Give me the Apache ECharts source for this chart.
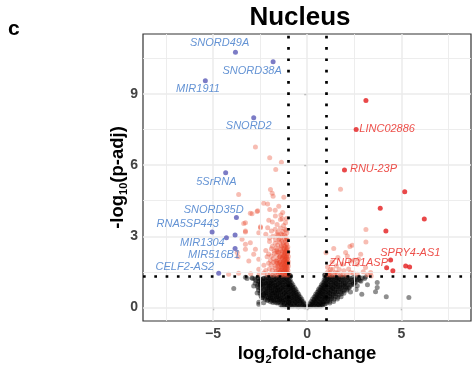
<!DOCTYPE html>
<html><head><meta charset="utf-8">
<script src="https://cdn.jsdelivr.net/npm/echarts@6/dist/echarts.min.js"></script>
<style>html,body{margin:0;padding:0;background:#fff}#c{width:472px;height:370px}</style>
</head><body><div id="c"></div>
<script>
// ---- data ----
const xTicks = [-5, 0, 5];
const yTicks = [0, 3, 6, 9];
const xMajorGrid = [-5, 0, 5];
const xMinorGrid = [-7.5, -2.5, 2.5, 7.5];
const yMajorGrid = [0, 3, 6, 9];
const yMinorGrid = [1.5, 4.5, 7.5, 10.5];
const fcCutoffs = [-1, 1];
const padjCutoff = 1.301;

const downNames = ['SNORD49A','SNORD38A','MIR1911','SNORD2','5SrRNA','SNORD35D','RNA5SP443','MIR1304','MIR516B1','CELF2-AS2'];
const downPoints = [[-3.81,10.77],[-1.81,10.36],[-5.41,9.56],[-2.84,8.0],[-4.33,5.68],[-3.76,3.79],[-5.05,3.18],[-4.29,2.94],[-3.83,2.48],[-4.70,1.44]];
const downOther = [[-3.83,3.05]];
const upNames = ['LINC02886','RNU-23P','SPRY4-AS1','ZNRD1ASP'];
const upPoints = [[2.6,7.5],[1.98,5.8],[4.43,2.0],[4.22,1.67]];
const upOther = [[3.12,8.73],[5.18,4.88],[3.88,4.18],[6.22,3.73],[4.18,3.22],[4.55,1.54],[5.23,1.75],[5.44,1.70]];

const nsPoints = [
[-0.02,0.02],[-0.08,0.05],[-0.15,0.03],[-0.22,0.08],[-0.3,0.04],[-0.38,0.06],[-0.47,0.03],[-0.55,0.07],[-0.63,0.05],[-0.72,0.09],[-0.8,0.04],
[-0.12,0.14],[-0.2,0.17],[-0.29,0.15],[-0.37,0.18],[-0.46,0.14],[-0.54,0.16],[-0.62,0.19],[-0.7,0.15],[-0.79,0.17],[-0.88,0.14],[-0.95,0.18],
[-0.21,0.24],[-0.3,0.27],[-0.38,0.25],[-0.47,0.28],[-0.56,0.24],[-0.64,0.26],[-0.73,0.29],[-0.82,0.25],[-0.9,0.27],[-0.98,0.23],[-1.05,0.28],
[-0.29,0.35],[-0.37,0.33],[-0.45,0.37],[-0.54,0.34],[-0.62,0.36],[-0.71,0.38],[-0.8,0.33],[-0.88,0.37],[-0.97,0.35],[-1.06,0.38],[-1.13,0.34],
[-0.37,0.44],[-0.45,0.47],[-0.53,0.43],[-0.62,0.46],[-0.7,0.48],[-0.79,0.44],[-0.87,0.47],[-0.96,0.45],[-1.04,0.43],[-1.13,0.48],[-1.22,0.45],
[-0.45,0.55],[-0.53,0.53],[-0.61,0.57],[-0.7,0.54],[-0.78,0.58],[-0.87,0.55],[-0.95,0.53],[-1.04,0.57],[-1.12,0.54],[-1.21,0.58],[-1.3,0.55],
[-0.53,0.64],[-0.61,0.67],[-0.7,0.63],[-0.78,0.66],[-0.87,0.68],[-0.95,0.64],[-1.04,0.67],[-1.12,0.65],[-1.21,0.63],[-1.3,0.68],[-1.39,0.65],
[-0.6,0.75],[-0.69,0.73],[-0.77,0.77],[-0.86,0.74],[-0.94,0.78],[-1.03,0.75],[-1.11,0.73],[-1.2,0.77],[-1.29,0.74],[-1.38,0.78],[-1.47,0.75],[-1.56,0.73],
[-0.68,0.84],[-0.77,0.87],[-0.85,0.83],[-0.94,0.86],[-1.02,0.88],[-1.11,0.84],[-1.2,0.87],[-1.28,0.85],[-1.37,0.83],[-1.46,0.88],[-1.55,0.85],[-1.64,0.87],
[-0.76,0.95],[-0.85,0.93],[-0.93,0.97],[-1.02,0.94],[-1.1,0.98],[-1.19,0.95],[-1.28,0.93],[-1.36,0.97],[-1.45,0.94],[-1.54,0.98],[-1.63,0.95],[-1.72,0.93],
[-0.84,1.04],[-0.92,1.07],[-1.01,1.03],[-1.1,1.06],[-1.18,1.08],[-1.27,1.04],[-1.36,1.07],[-1.44,1.05],[-1.53,1.03],[-1.62,1.08],[-1.71,1.05],[-1.8,1.07],[-1.9,1.04],
[-0.9,1.15],[-0.98,1.13],[-1.07,1.17],[-1.16,1.14],[-1.24,1.18],[-1.33,1.15],[-1.42,1.13],[-1.5,1.17],[-1.59,1.14],[-1.68,1.18],[-1.77,1.15],[-1.86,1.13],[-1.96,1.17],[-2.06,1.14],
[-0.95,1.24],[-1.04,1.27],[-1.13,1.23],[-1.22,1.26],[-1.31,1.28],[-1.4,1.24],[-1.49,1.27],[-1.58,1.25],[-1.67,1.23],[-1.76,1.28],[-1.85,1.25],[-1.95,1.27],[-2.05,1.24],[-2.16,1.26],[-2.28,1.23],
[-0.92,1.34],[-0.97,1.38],[-0.88,1.32],
[-0.88,0.07],[-0.96,0.05],[-1.05,0.08],[-1.14,0.04],[-1.23,0.09],[-1.32,0.06],[-1.4,0.1],
[-1.0,0.2],[-1.1,0.22],[-1.2,0.19],[-1.3,0.23],[-1.4,0.2],[-1.5,0.24],[-1.6,0.18],[-1.7,0.22],[-1.82,0.2],[-1.95,0.24],
[-1.18,0.3],[-1.28,0.32],[-1.38,0.29],[-1.48,0.33],[-1.58,0.3],[-1.68,0.34],[-1.78,0.31],[-1.88,0.29],[-1.98,0.33],[-2.1,0.3],[-2.22,0.34],
[-1.25,0.41],[-1.35,0.39],[-1.45,0.43],[-1.55,0.4],[-1.65,0.44],[-1.75,0.41],[-1.85,0.39],[-1.95,0.43],[-2.05,0.4],[-2.15,0.44],[-2.27,0.41],[-2.4,0.39],
[-1.32,0.5],[-1.42,0.52],[-1.52,0.49],[-1.62,0.53],[-1.72,0.5],[-1.82,0.48],[-1.92,0.52],[-2.02,0.5],[-2.12,0.53],[-2.22,0.49],[-2.34,0.52],[-2.46,0.5],
[-1.42,0.6],[-1.52,0.62],[-1.62,0.59],[-1.72,0.63],[-1.82,0.6],[-1.92,0.62],[-2.02,0.58],[-2.12,0.62],[-2.24,0.6],[-2.36,0.63],[-2.5,0.59],
[-1.48,0.7],[-1.58,0.68],[-1.68,0.72],[-1.78,0.7],[-1.88,0.73],[-1.98,0.69],[-2.08,0.72],[-2.2,0.7],[-2.32,0.73],[-2.45,0.69],[-2.58,0.72],
[-1.6,0.8],[-1.7,0.82],[-1.8,0.79],[-1.9,0.83],[-2.0,0.8],[-2.1,0.83],[-2.22,0.79],[-2.34,0.82],[-2.46,0.8],[-2.6,0.83],
[-1.72,0.9],[-1.82,0.88],[-1.92,0.92],[-2.02,0.89],[-2.12,0.93],[-2.24,0.9],[-2.36,0.88],[-2.5,0.92],[-2.64,0.89],
[-1.82,1.0],[-1.92,0.98],[-2.02,1.02],[-2.12,0.99],[-2.24,1.03],[-2.36,1.0],[-2.48,1.02],[-2.62,0.98],[-2.76,1.02],
[-1.96,1.1],[-2.08,1.08],[-2.2,1.12],[-2.32,1.09],[-2.44,1.12],[-2.58,1.08],[-2.72,1.12],
[-2.2,1.2],[-2.34,1.22],[-2.48,1.19],[-2.62,1.23],[-2.78,1.2],[-2.9,1.22],
[-2.4,1.18],[-2.55,1.1],[-2.62,1.27],[-2.2,1.02],[-2.35,0.95],[-2.0,0.9],[-2.12,0.78],[-1.9,0.7],[-1.85,0.55],[-1.7,0.62],[-1.6,0.45],[-1.45,0.35],[-1.3,0.25],[-1.2,0.15],[-1.05,0.1],
[-2.48,0.97],[-2.66,0.61],[-2.31,0.55],[-2.57,0.13],[-2.31,0.19],[-2.84,0.9],[-2.93,1.25],[-3.28,1.27],[-3.19,1.22],[-3.9,0.8],[-2.57,0.21],[-2.39,0.42],[-2.1,0.3],[-1.95,0.38],[-2.2,0.62],[-1.75,0.28],[-1.55,0.2],
[0.03,0.03],[0.1,0.06],[0.18,0.04],[0.26,0.08],[0.34,0.05],[0.42,0.07],[0.5,0.04],[0.58,0.08],[0.66,0.05],
[0.13,0.15],[0.21,0.13],[0.29,0.17],[0.37,0.14],[0.45,0.18],[0.53,0.15],[0.61,0.13],[0.69,0.17],[0.77,0.14],
[0.21,0.25],[0.29,0.23],[0.37,0.27],[0.45,0.24],[0.53,0.28],[0.61,0.25],[0.69,0.23],[0.77,0.27],[0.85,0.24],
[0.29,0.35],[0.37,0.33],[0.45,0.37],[0.53,0.34],[0.61,0.38],[0.69,0.35],[0.77,0.33],[0.85,0.37],[0.93,0.34],[1.01,0.38],
[0.37,0.44],[0.45,0.47],[0.53,0.43],[0.61,0.46],[0.69,0.48],[0.77,0.44],[0.85,0.47],[0.93,0.45],[1.01,0.43],[1.1,0.47],
[0.45,0.55],[0.53,0.53],[0.61,0.57],[0.69,0.54],[0.77,0.58],[0.85,0.55],[0.93,0.53],[1.01,0.57],[1.1,0.54],[1.19,0.58],
[0.53,0.64],[0.61,0.67],[0.69,0.63],[0.77,0.66],[0.85,0.68],[0.93,0.64],[1.01,0.67],[1.1,0.65],[1.19,0.63],[1.28,0.68],[1.37,0.65],
[0.6,0.75],[0.68,0.73],[0.76,0.77],[0.84,0.74],[0.92,0.78],[1.0,0.75],[1.09,0.73],[1.18,0.77],[1.27,0.74],[1.36,0.78],[1.45,0.75],
[0.68,0.84],[0.76,0.87],[0.84,0.83],[0.92,0.86],[1.0,0.88],[1.09,0.84],[1.18,0.87],[1.27,0.85],[1.36,0.83],[1.45,0.88],[1.54,0.85],[1.63,0.87],
[0.76,0.95],[0.84,0.93],[0.92,0.97],[1.0,0.94],[1.09,0.98],[1.18,0.95],[1.27,0.93],[1.36,0.97],[1.45,0.94],[1.54,0.98],[1.63,0.95],[1.72,0.93],
[0.84,1.04],[0.92,1.07],[1.0,1.03],[1.09,1.06],[1.18,1.08],[1.27,1.04],[1.36,1.07],[1.45,1.05],[1.54,1.03],[1.63,1.08],[1.72,1.05],[1.82,1.07],[1.92,1.04],
[0.9,1.15],[0.98,1.13],[1.07,1.17],[1.16,1.14],[1.25,1.18],[1.34,1.15],[1.43,1.13],[1.52,1.17],[1.61,1.14],[1.7,1.18],[1.8,1.15],[1.9,1.13],[2.0,1.17],[2.12,1.14],
[0.95,1.24],[1.04,1.27],[1.13,1.23],[1.22,1.26],[1.31,1.28],[1.4,1.24],[1.49,1.27],[1.58,1.25],[1.67,1.23],[1.76,1.28],[1.86,1.25],[1.96,1.27],[2.06,1.24],[2.18,1.26],[2.3,1.23],[2.45,1.27],
[0.74,0.06],[0.82,0.09],[0.85,0.16],[0.93,0.13],[1.01,0.17],[0.93,0.26],[1.01,0.24],[1.1,0.28],[1.2,0.25],
[1.1,0.36],[1.2,0.34],[1.3,0.37],[1.42,0.34],[1.19,0.46],[1.28,0.44],[1.38,0.47],[1.5,0.45],[1.62,0.43],
[1.28,0.56],[1.38,0.54],[1.48,0.57],[1.58,0.55],[1.7,0.53],[1.82,0.57],[1.46,0.66],[1.56,0.64],[1.66,0.67],[1.78,0.65],[1.9,0.68],
[1.54,0.76],[1.64,0.74],[1.74,0.77],[1.86,0.75],[1.98,0.73],[2.12,0.77],[1.72,0.86],[1.82,0.84],[1.94,0.87],[2.06,0.85],[2.2,0.83],
[1.82,0.96],[1.92,0.94],[2.04,0.97],[2.16,0.95],[2.3,0.93],[2.45,0.97],[2.02,1.06],[2.14,1.04],[2.26,1.07],[2.4,1.05],[2.55,1.08],
[2.24,1.16],[2.36,1.14],[2.5,1.17],[2.64,1.15],[2.8,1.13],[2.6,1.25],[2.75,1.27],[2.92,1.24],[3.1,1.28],
[2.74,1.19],[2.66,0.91],[2.55,1.05],[2.4,0.98],[2.25,0.85],[2.1,0.72],[1.95,0.6],[2.3,0.65],[2.6,0.75],[2.85,1.1],[3.05,1.22],[3.72,1.05],[3.72,0.84],[3.63,0.66],[4.2,0.45],[5.4,0.42],
[1.8,0.45],[1.6,0.35],[1.4,0.25],[2.0,0.9],[3.2,0.95],[2.9,0.55],[1.2,0.18],[0.92,1.35],[0.96,1.4]
];

const sigPoints = [
[-1.0,1.36],[-1.06,1.42],[-1.12,1.35],[-1.18,1.47],[-1.25,1.38],[-1.31,1.44],[-1.38,1.34],[-1.45,1.49],[-1.52,1.4],[-1.6,1.37],[-1.7,1.45],[-1.82,1.36],[-1.95,1.42],[-2.1,1.38],[-2.3,1.45],[-2.55,1.4],[-3.0,1.42],[-3.64,1.44],[-4.17,1.4],
[-1.02,1.55],[-1.08,1.62],[-1.14,1.52],[-1.2,1.68],[-1.27,1.58],[-1.33,1.65],[-1.4,1.54],[-1.47,1.7],[-1.55,1.6],[-1.63,1.53],[-1.72,1.66],[-1.85,1.58],[-2.0,1.63],[-2.2,1.55],[-2.57,1.61],
[-1.0,1.75],[-1.05,1.82],[-1.11,1.72],[-1.17,1.88],[-1.24,1.78],[-1.3,1.85],[-1.37,1.74],[-1.44,1.9],[-1.52,1.8],[-1.6,1.86],[-1.7,1.77],[-1.8,1.89],[-1.92,1.8],[-2.05,1.86],[-2.3,1.78],
[-1.01,1.95],[-1.07,2.03],[-1.13,1.93],[-1.19,2.08],[-1.26,1.98],[-1.33,2.05],[-1.41,1.94],[-1.5,2.09],[-1.58,2.0],[-1.68,1.96],[-1.8,2.06],[-1.95,1.98],[-2.13,2.14],[-2.57,2.03],[-3.1,1.96],
[-1.0,2.15],[-1.06,2.24],[-1.12,2.13],[-1.19,2.28],[-1.27,2.18],[-1.35,2.25],[-1.44,2.14],[-1.53,2.3],[-1.63,2.2],[-1.75,2.27],[-1.9,2.17],[-2.05,2.25],[-3.67,2.14],
[-1.02,2.35],[-1.09,2.44],[-1.16,2.33],[-1.24,2.48],[-1.32,2.38],[-1.41,2.46],[-1.5,2.35],[-1.62,2.42],[-1.75,2.38],[-1.9,2.47],[-2.2,2.4],[-2.84,2.24],[-3.72,2.31],[-2.75,2.45],[-3.28,2.45],
[-1.03,2.55],[-1.1,2.68],[-1.18,2.58],[-1.27,2.72],[-1.36,2.6],[-1.46,2.75],[-1.57,2.63],[-1.7,2.7],[-1.85,2.58],[-2.0,2.78],[-3.02,2.73],[-3.28,2.66],
[-1.05,2.85],[-1.13,2.98],[-1.22,2.88],[-1.32,3.05],[-1.43,2.92],[-1.55,3.02],[-1.68,2.86],[-1.82,3.0],[-2.0,2.93],[-2.2,3.08],[-3.46,2.87],[-2.57,3.15],
[-1.08,3.15],[-1.18,3.3],[-1.3,3.2],[-1.42,3.35],[-1.55,3.18],[-1.7,3.3],[-1.9,3.22],[-2.1,3.36],[-2.48,3.36],[-3.28,3.18],[-3.28,3.22],
[-1.15,3.57],[-1.42,3.71],[-1.33,3.74],[-1.69,3.85],[-2.04,3.68],[-2.48,3.4],[-3.37,3.54],[-3.28,3.57],[-1.25,3.45],[-1.6,3.5],[-1.85,3.6],[-1.1,3.75],
[-1.99,4.13],[-1.51,4.27],[-2.63,4.08],[-2.93,3.95],[-3.02,3.97],[-2.66,4.04],[-2.31,4.39],[-2.1,4.36],[-1.24,4.65],[-1.81,4.69],[-1.86,4.81],[-1.95,4.97],[-3.64,4.76],[-1.3,4.0],[-1.7,4.1],[-1.4,3.9],
[-2.75,6.77],[-1.99,6.31],[-1.37,6.12],[-1.67,5.82],
[-1.03,1.45],[-1.09,1.52],[-1.15,1.41],[-1.21,1.57],[-1.28,1.49],[-1.36,1.6],[-1.43,1.46],[-1.04,1.66],[-1.1,1.73],[-1.16,1.63],[-1.22,1.78],[-1.3,1.7],[-1.38,1.81],
[-1.02,1.86],[-1.08,1.92],[-1.14,1.84],[-1.21,1.98],[-1.29,1.9],[-1.04,2.06],[-1.1,2.12],[-1.17,2.02],[-1.24,2.16],[-1.32,2.1],[-1.05,2.27],[-1.13,2.37],[-1.2,2.21],[-1.29,2.33],
[-1.06,2.48],[-1.14,2.52],[-1.22,2.42],[-1.08,2.65],[-1.16,2.78],[-1.25,2.62],[-1.1,2.9],[-1.2,3.05],[-1.12,3.25],[-1.5,1.58],[-1.56,1.75],[-1.48,1.88],[-1.62,1.95],[-1.45,2.15],
[-1.58,2.35],[-1.4,2.55],[-1.65,2.5],[-1.5,2.85],[-1.35,2.8],[-1.6,3.1],[-1.38,3.1],
[1.77,4.98],[3.12,3.29],[3.12,2.76],[2.39,2.62],[2.27,2.57],[1.41,2.48],[2.04,2.31],[2.84,2.24],[2.74,2.03],[2.13,2.17],[1.63,2.1],[1.33,1.92],[1.86,1.82],[2.3,1.96],[2.66,1.82],
[3.1,1.68],[3.37,1.47],[1.24,1.61],[1.5,1.47],[1.95,1.54],[2.3,1.47],[1.15,1.4],[1.77,1.36],[2.66,1.4],[2.98,1.5],
[1.05,1.38],[1.1,1.5],[1.2,1.45],[1.28,1.35],[1.35,1.6],[1.45,1.38],[1.6,1.45],[1.7,1.6],[1.9,1.4],[2.1,1.35],[2.45,1.45],[1.08,1.7],[1.55,1.75],[2.2,1.62],[2.5,2.0],[1.0,2.3],[3.2,1.38],[3.4,1.32]
];

// ---- layout / style ----
const FONT = '"Liberation Sans", Arial, Helvetica, sans-serif';
const downLabelOffsets = [[-15.8,-9],[-21,8.7],[-7.3,8.3],[-5,7.7],[-9.3,9],[-22.7,-7.3],[-24.4,-7.7],[-24,5.7],[-21,6.7],[-33.8,-6.3]];
const upLabelOffsets = [[31,-1],[29,-1],[19.7,-6.7],[-28,-4.7]];
const minus = v => (v < 0 ? '\u2212' + Math.abs(v) : String(v));

const gridLines = []
  .concat(xMajorGrid.map(v => ({ xAxis: v, lineStyle: { width: 1.5 } })))
  .concat(xMinorGrid.map(v => ({ xAxis: v, lineStyle: { width: 0.9 } })))
  .concat(yMajorGrid.map(v => ({ yAxis: v, lineStyle: { width: 1.5 } })))
  .concat(yMinorGrid.map(v => ({ yAxis: v, lineStyle: { width: 0.9 } })));

const cutLines = fcCutoffs.map(v => ({ xAxis: v })).concat([{ yAxis: padjCutoff }]);

function labeled(points, names, offsets) {
  return points.map((p, i) => ({ value: p, name: names[i], label: { offset: offsets[i] } }));
}

const chart = echarts.init(document.getElementById('c'), null, { renderer: 'canvas' });
chart.setOption({
  animation: false,
  backgroundColor: '#ffffff',
  grid: { left: 143, right: 1, top: 34, bottom: 48, show: true, borderColor: '#333333', borderWidth: 1.2, backgroundColor: '#ffffff', containLabel: false },
  xAxis: {
    type: 'value', min: -8.72, max: 8.7,
    name: '{a|log}{s|2}{a|fold-change}', nameLocation: 'middle', nameGap: 22, nameMoveOverlap: false,
    nameTextStyle: { rich: {
      a: { fontFamily: FONT, fontSize: 18.5, fontWeight: 'bold', color: '#000', lineHeight: 22 },
      s: { fontFamily: FONT, fontSize: 11, fontWeight: 'bold', color: '#000', lineHeight: 10, verticalAlign: 'bottom' } } },
    axisLine: { show: false },
    axisTick: { show: true, length: 3, lineStyle: { color: '#333', width: 1.2 }, customValues: xTicks },
    axisLabel: { customValues: xTicks, formatter: minus, fontFamily: FONT, fontSize: 14, fontWeight: 'bold', color: '#424242', margin: 6 },
    splitLine: { show: false }
  },
  yAxis: {
    type: 'value', min: -0.576, max: 11.535,
    name: '{a|-log}{s|10}{a|(p-adj)}', nameLocation: 'middle', nameGap: 14, nameMoveOverlap: false,
    nameTextStyle: { rich: {
      a: { fontFamily: FONT, fontSize: 18.5, fontWeight: 'bold', color: '#000', lineHeight: 22 },
      s: { fontFamily: FONT, fontSize: 11, fontWeight: 'bold', color: '#000', lineHeight: 10, verticalAlign: 'bottom' } } },
    axisLine: { show: false },
    axisTick: { show: true, length: 3, lineStyle: { color: '#333', width: 1.2 }, customValues: yTicks },
    axisLabel: { customValues: yTicks, formatter: minus, fontFamily: FONT, fontSize: 14, fontWeight: 'bold', color: '#424242', margin: 5 },
    splitLine: { show: false }
  },
  graphic: [
    { type: 'text', left: 8, top: 19, style: { text: 'c', font: 'bold 21px ' + FONT, fill: '#000' } },
    { type: 'text', x: 300, y: 18, style: { text: 'Nucleus', font: 'bold 26px ' + FONT, fill: '#000', textAlign: 'center', textVerticalAlign: 'middle' } }
  ],
  series: [
    { type: 'scatter', data: [], z: 1, silent: true,
      markLine: { silent: true, symbol: ['none', 'none'], label: { show: false }, animation: false,
        lineStyle: { color: '#EBEBEB', type: 'solid' }, emphasis: { disabled: true }, data: gridLines } },
    { type: 'scatter', data: nsPoints, z: 2, silent: true, symbolSize: 5,
      itemStyle: { color: 'rgba(0,0,0,0.55)' }, emphasis: { disabled: true } },
    { type: 'scatter', data: sigPoints, z: 3, silent: true, symbolSize: 5,
      itemStyle: { color: 'rgba(232,60,30,0.42)' }, emphasis: { disabled: true } },
    { type: 'scatter', data: [], z: 4, silent: true,
      markLine: { silent: true, symbol: ['none', 'none'], label: { show: false }, animation: false,
        lineStyle: { color: '#000', width: 2.7, type: [2.7, 8.6], cap: 'butt' }, emphasis: { disabled: true }, data: cutLines } },
    { type: 'scatter', data: downOther, z: 5, silent: true, symbolSize: 5, itemStyle: { color: '#5B5BB8' } },
    { type: 'scatter', data: upOther, z: 5, silent: true, symbolSize: 5, itemStyle: { color: '#E41A1C' } },
    { type: 'scatter', z: 6, silent: true, symbolSize: 5, itemStyle: { color: '#5B5BB8' },
      data: labeled(downPoints, downNames, downLabelOffsets),
      label: { show: true, position: 'inside', formatter: '{b}', color: '#3D78C9', fontStyle: 'italic', fontSize: 11, fontFamily: FONT } },
    { type: 'scatter', z: 6, silent: true, symbolSize: 5, itemStyle: { color: '#E41A1C' },
      data: labeled(upPoints, upNames, upLabelOffsets),
      label: { show: true, position: 'inside', formatter: '{b}', color: '#E8231D', fontStyle: 'italic', fontSize: 11, fontFamily: FONT } }
  ]
});
</script></body></html>
